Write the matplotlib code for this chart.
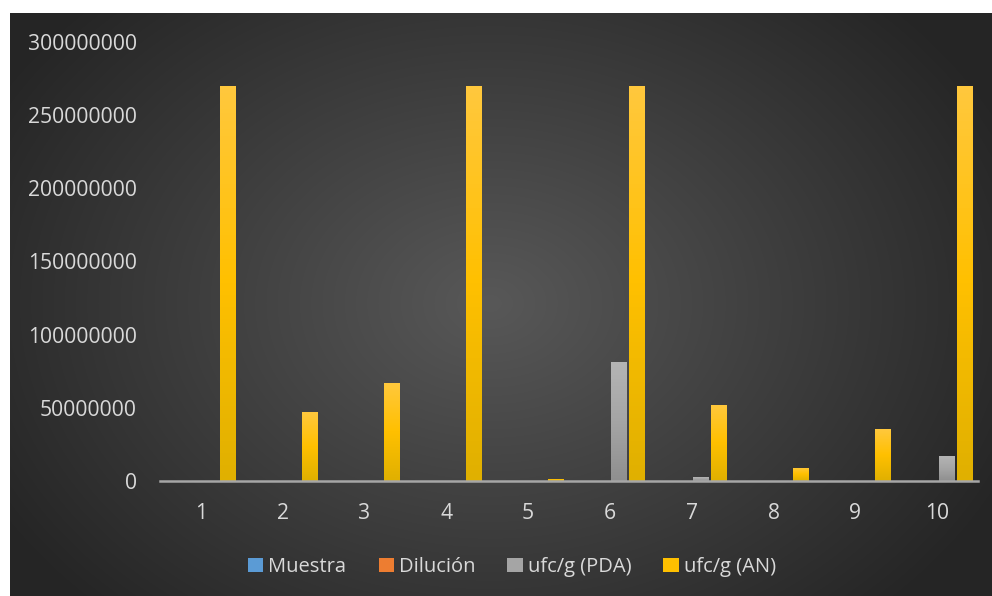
import matplotlib
matplotlib.use("Agg")
import matplotlib.pyplot as plt
import numpy as np
from matplotlib.patches import Patch
from matplotlib.colors import LinearSegmentedColormap

# data
muestras = ['1', '2', '3', '4', '5', '6', '7', '8', '9', '10']
muestra = [1, 2, 3, 4, 5, 6, 7, 8, 9, 10]
dilucion = [0.001, 0.001, 0.001, 0.001, 0.001, 0.001, 0.001, 0.001, 0.001, 0.001]
ufc_pda = [0, 0, 0, 0, 0, 81000000, 2700000, 0, 0, 17000000]
ufc_an = [270000000, 47000000, 67000000, 270000000, 1400000,
          270000000, 52000000, 8900000, 35500000, 270000000]

series = [('Muestra', muestra, '#5B9BD5', '#9DC3E6', '#41719C'),
          ('Dilución', dilucion, '#ED7D31', '#F4B183', '#C55A11'),
          ('ufc/g (PDA)', ufc_pda, '#A5A5A5', '#B4B4B4', '#8F8F8F'),
          ('ufc/g (AN)', ufc_an, '#FFC000', '#FFC83D', '#E0B000')]

txt = '#D9D9D9'
plt.rcParams['font.family'] = ['Open Sans', 'DejaVu Sans']

W, H = 992, 596
fig = plt.figure(figsize=(W / 100, H / 100), dpi=100, facecolor='white')

# dark panel with radial gradient
bg = fig.add_axes([10 / W, 0, 982 / W, 583 / H])
bg.set_axis_off()
yy, xx = np.mgrid[0:583, 0:982]
r = np.sqrt(((xx - 480) / 560.0) ** 2 + ((yy - 290) / 420.0) ** 2)
r = np.clip(r, 0, 1)
c0, c1 = 0x58 / 255, 0x26 / 255
g = c0 + (c1 - c0) * r
bg.imshow(np.dstack([g, g, g]), aspect='auto', extent=[0, 1, 0, 1])
bg.set_xlim(0, 1)
bg.set_ylim(0, 1)

ax = fig.add_axes([160 / W, 1 - 481 / H, 818 / W, 439 / H])
ax.patch.set_alpha(0)

x = np.arange(1, len(muestras) + 1)
offs = [-0.33, -0.11, 0.11, 0.33]
width = 0.185
for (name, vals, col, top, bot), off in zip(series, offs):
    bars = ax.bar(x + off, vals, width, color=col, zorder=2)
    cmap = LinearSegmentedColormap.from_list(name, [bot, col, top])
    grad = np.linspace(0, 1, 100).reshape(-1, 1)
    for b in bars:
        if b.get_height() <= 0:
            continue
        bx, by = b.get_x(), b.get_y()
        im = ax.imshow(grad, cmap=cmap, aspect='auto', origin='lower',
                       extent=[bx, bx + b.get_width(), by, by + b.get_height()],
                       zorder=3)
        im.set_clip_path(b)

ax.set_xlim(0.5, 10.5)
ax.set_ylim(0, 300000000)
ax.set_yticks(np.arange(0, 300000001, 50000000))
ax.set_yticklabels([str(v) for v in range(0, 300000001, 50000000)])
ax.set_xticks(x)
ax.set_xticklabels(muestras)
ax.tick_params(axis='both', length=0, colors=txt, labelsize=15.2)
ax.tick_params(axis='y', pad=16.5)
ax.tick_params(axis='x', pad=16)
for s in ['top', 'right', 'left']:
    ax.spines[s].set_visible(False)
ax.spines['bottom'].set_color('#A6A6A6')
ax.spines['bottom'].set_linewidth(1.8)
ax.spines['bottom'].set_zorder(4)

handles = [Patch(facecolor=s[2], label=s[0]) for s in series]
leg = fig.legend(handles=handles, loc='center', bbox_to_anchor=(512 / W, 1 - 567 / H),
                 ncol=4, frameon=False, fontsize=14.5, labelcolor=txt,
                 handlelength=0.75, handleheight=0.75, handletextpad=0.25,
                 columnspacing=1.6)

fig.savefig('out.png', dpi=100, facecolor='white')
